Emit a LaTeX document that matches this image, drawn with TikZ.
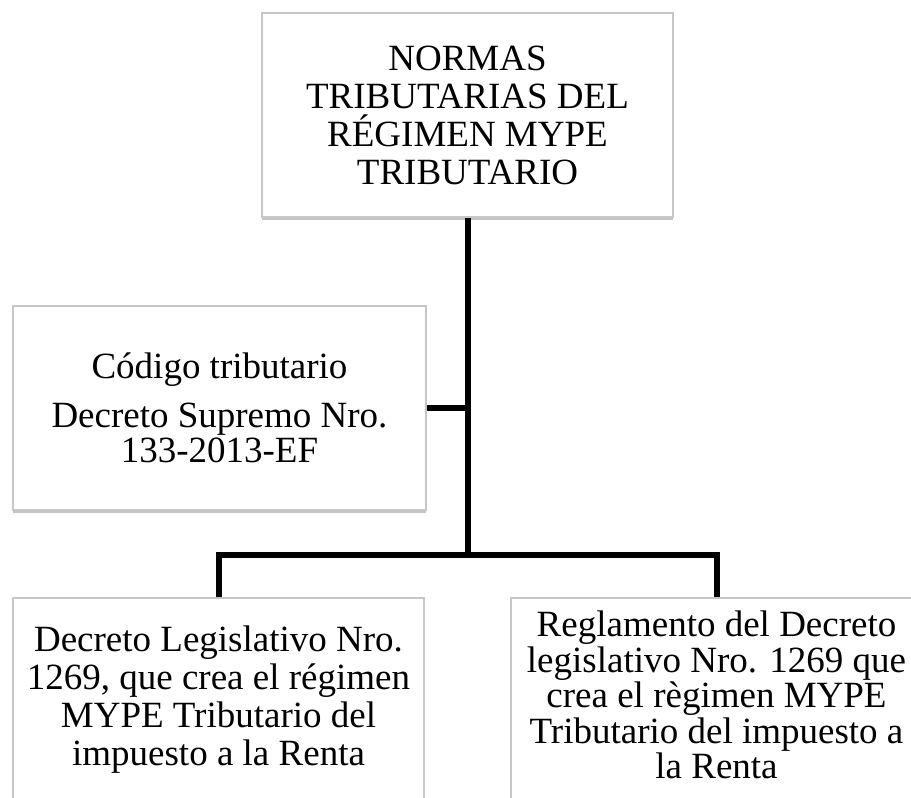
\documentclass[tikz,border=0pt]{standalone}
\usepackage{fontspec}
\setmainfont{Liberation Serif}
\usetikzlibrary{shadows}
\begin{document}
\begin{tikzpicture}[x=1pt,y=-1pt,
  box/.style={draw=black!22, line width=1.2pt, fill=white, minimum width=411pt,
    minimum height=204pt, inner sep=0pt, align=center,
    drop shadow={shadow xshift=0pt, shadow yshift=-3pt, fill=black!45, opacity=0.5},
    font=\fontsize{37}{38}\selectfont},
  conn/.style={line width=6pt, line join=miter, draw=black}]
\useasboundingbox (0,0) rectangle (911,798);
\clip (0,0) rectangle (911,798);
\node[box] (top) at (467.5,115) {NORMAS\\TRIBUTARIAS DEL\\RÉGIMEN MYPE\\TRIBUTARIO};
\node[box, minimum width=413pt, font=\fontsize{37}{35}\selectfont] (code) at (219.5,408)
  {Código tributario\\[14pt]Decreto Supremo Nro.\\133-2013-EF};
\node[box] (bl) at (218.5,700) {Decreto Legislativo Nro.\\1269, que crea el régimen\\MYPE Tributario del\\impuesto a la Renta};
\node[box, font=\fontsize{37}{35.5}\selectfont] (br) at (716.5,700) {Reglamento del Decreto\\legislativo Nro. 1269 que\\crea el règimen MYPE\\Tributario del impuesto a\\la Renta\rule[-10pt]{0pt}{10pt}};
\coordinate (bus) at (467.5,555);
\draw[conn] (top.south) -- (bus);
\draw[conn] (code.east) -- (code.east -| bus);
\draw[conn] (bl.north) |- (bus) -| (br.north);
\end{tikzpicture}
\end{document}
